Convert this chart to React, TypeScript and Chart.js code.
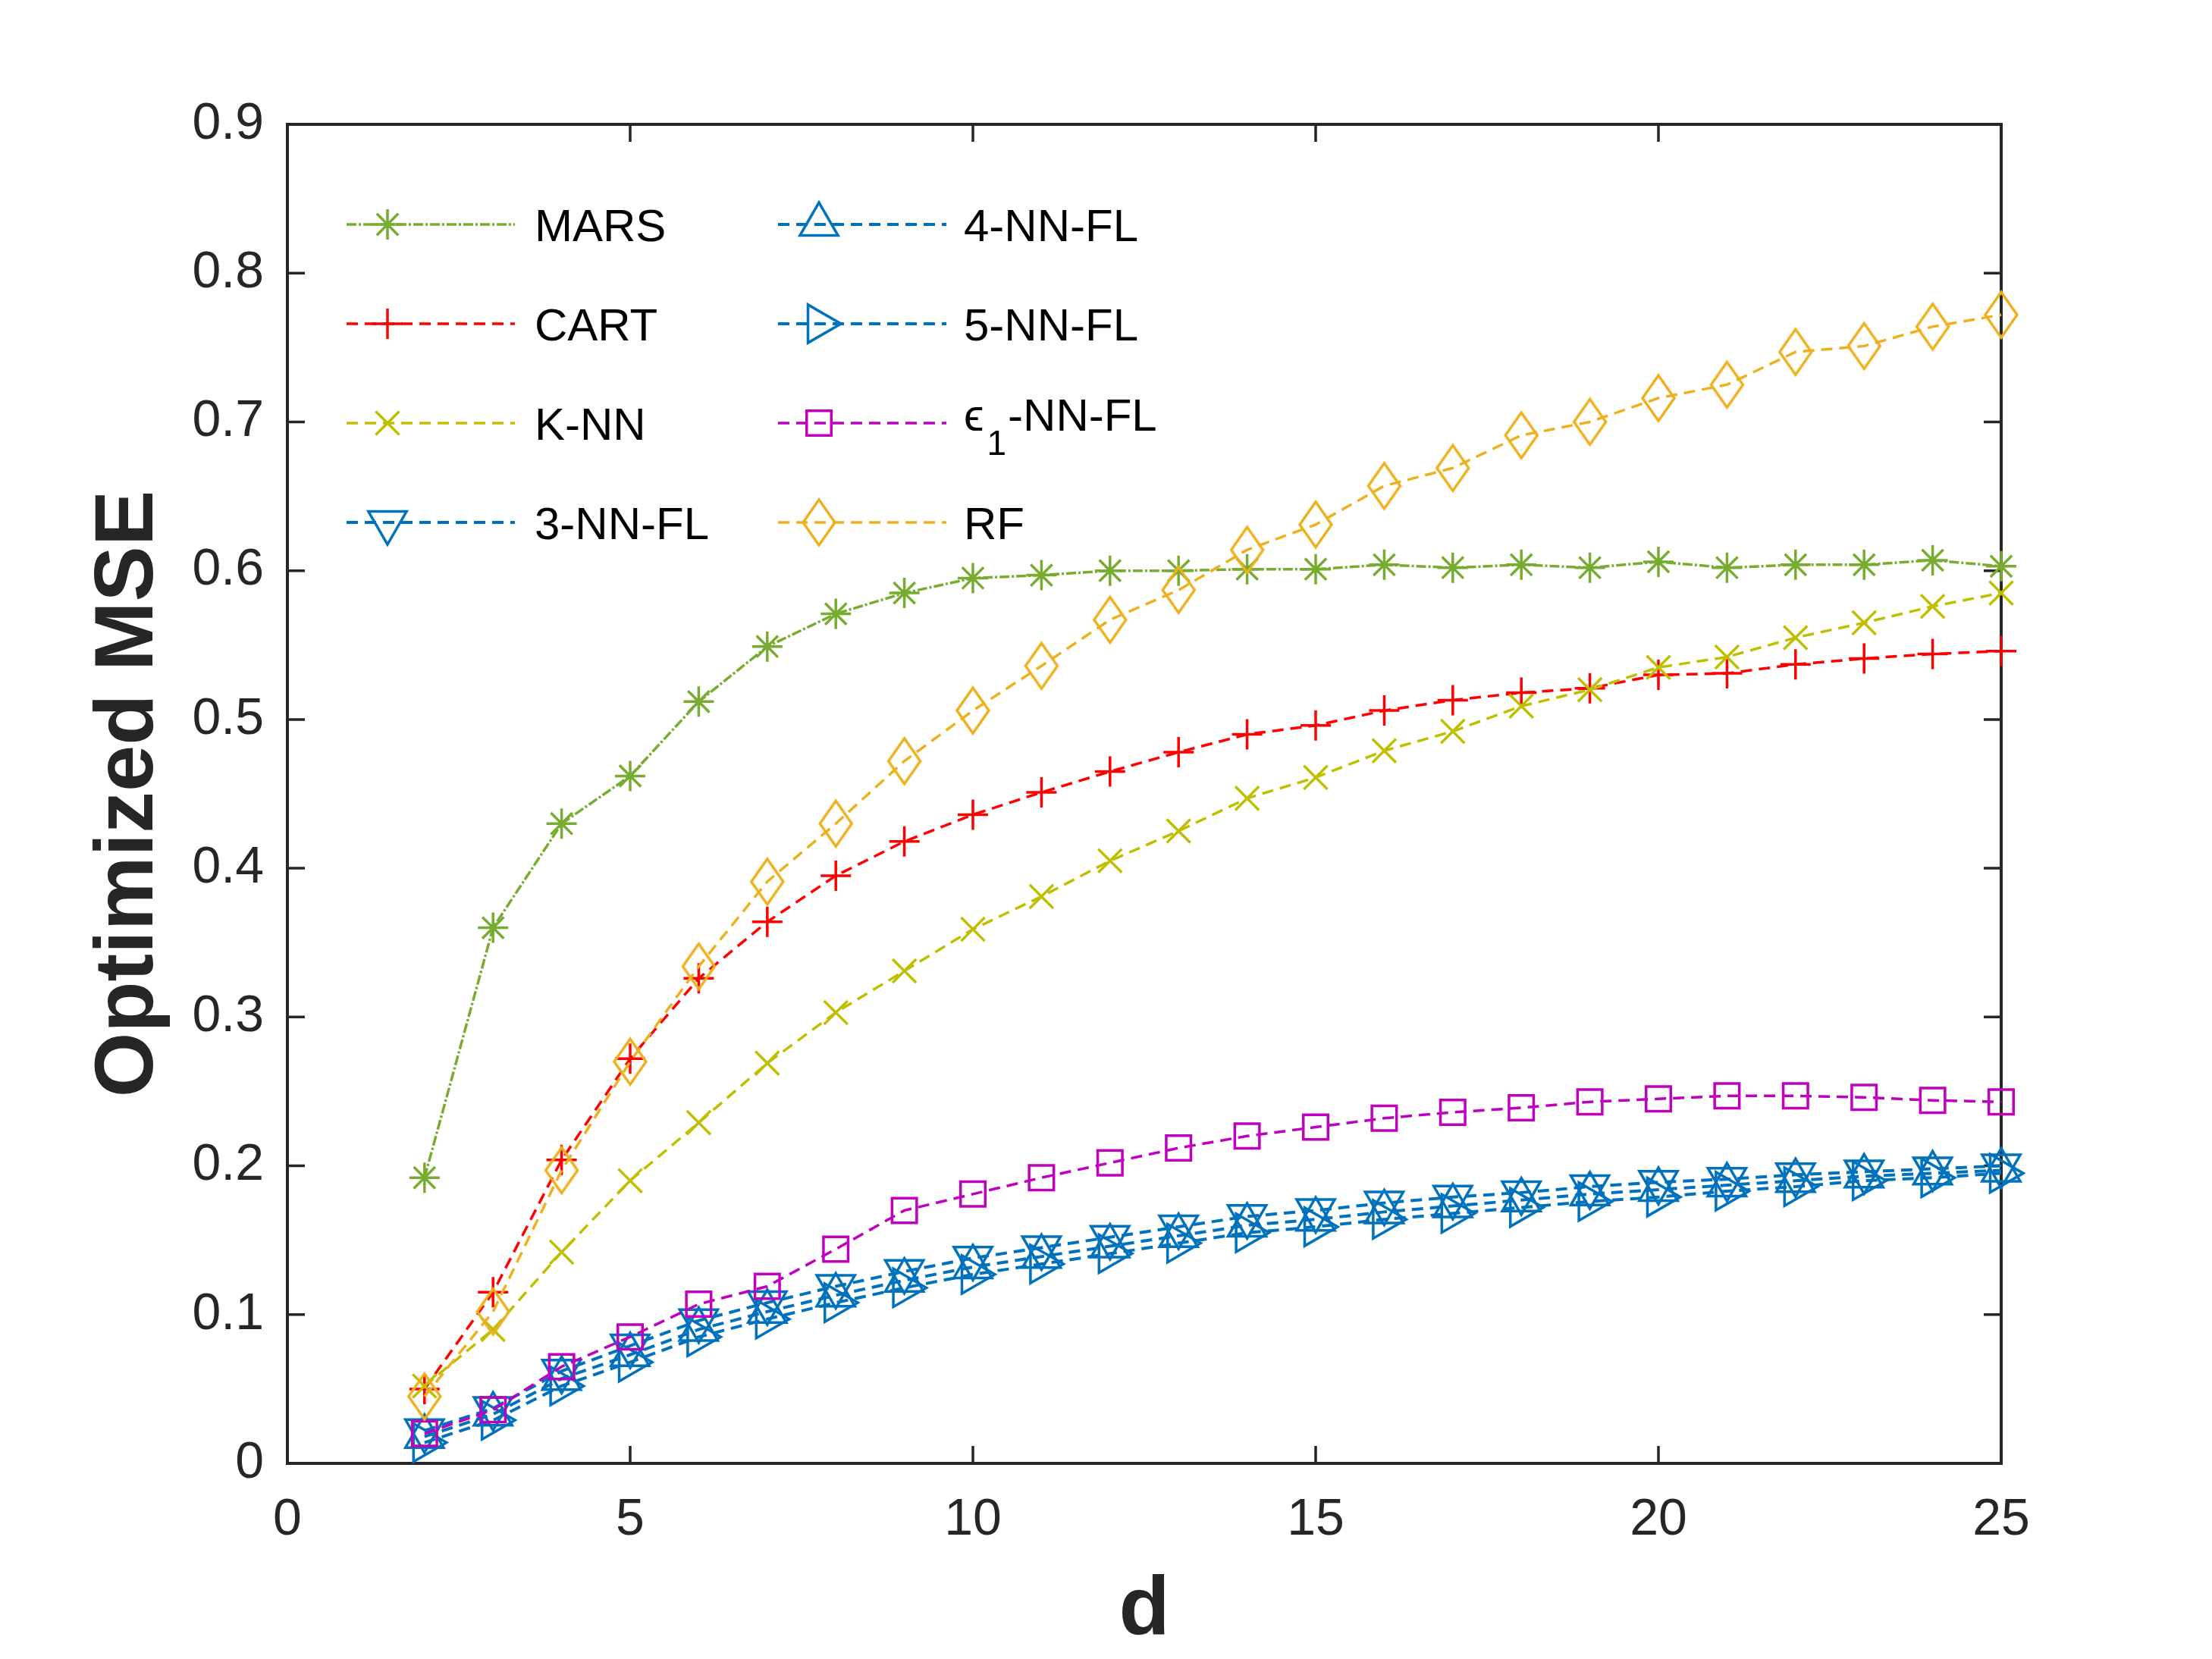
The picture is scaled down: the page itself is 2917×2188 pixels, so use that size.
import React, { useEffect, useRef } from "react";
import { Chart, registerables } from "chart.js";
import { drawPoint } from "chart.js/helpers";

Chart.register(...registerables);

const FONT = "'Liberation Sans', Arial, Helvetica, sans-serif";
const AXIS_COLOR = "#262626";

// problem dimension d
const dValues = [2, 3, 4, 5, 6, 7, 8, 9, 10, 11, 12, 13, 14, 15, 16, 17, 18, 19, 20, 21, 22, 23, 24, 25];

const marsMse = [0.192, 0.36, 0.43, 0.462, 0.512, 0.549, 0.571, 0.585, 0.595, 0.597, 0.6, 0.6, 0.601, 0.601, 0.604, 0.602, 0.604, 0.602, 0.606, 0.602, 0.604, 0.604, 0.607, 0.603];
const cartMse = [0.05, 0.115, 0.204, 0.272, 0.326, 0.364, 0.395, 0.418, 0.436, 0.451, 0.465, 0.478, 0.49, 0.496, 0.506, 0.513, 0.518, 0.521, 0.53, 0.531, 0.537, 0.541, 0.544, 0.546];
const knnMse = [0.052, 0.09, 0.142, 0.19, 0.229, 0.269, 0.303, 0.331, 0.359, 0.381, 0.405, 0.425, 0.447, 0.461, 0.479, 0.492, 0.509, 0.52, 0.535, 0.542, 0.555, 0.565, 0.576, 0.585];
const nn3Mse = [0.022, 0.037, 0.062, 0.079, 0.096, 0.108, 0.119, 0.129, 0.138, 0.145, 0.152, 0.159, 0.166, 0.17, 0.175, 0.179, 0.182, 0.186, 0.189, 0.191, 0.194, 0.196, 0.198, 0.2];
const nn4Mse = [0.018, 0.033, 0.057, 0.073, 0.09, 0.102, 0.113, 0.123, 0.132, 0.139, 0.146, 0.153, 0.16, 0.164, 0.169, 0.173, 0.177, 0.181, 0.184, 0.187, 0.19, 0.193, 0.195, 0.197];
const nn5Mse = [0.014, 0.029, 0.052, 0.068, 0.085, 0.097, 0.108, 0.118, 0.127, 0.134, 0.141, 0.148, 0.155, 0.159, 0.164, 0.168, 0.172, 0.176, 0.179, 0.183, 0.186, 0.19, 0.192, 0.195];
const eps1Mse = [0.02, 0.036, 0.065, 0.085, 0.107, 0.119, 0.144, 0.17, 0.181, 0.192, 0.202, 0.212, 0.22, 0.226, 0.232, 0.236, 0.239, 0.243, 0.245, 0.247, 0.247, 0.246, 0.244, 0.243];
const rfMse = [0.045, 0.102, 0.197, 0.27, 0.334, 0.391, 0.43, 0.472, 0.506, 0.536, 0.567, 0.587, 0.614, 0.631, 0.657, 0.669, 0.691, 0.7, 0.716, 0.725, 0.747, 0.751, 0.764, 0.772];

const xTicks = [0, 5, 10, 15, 20, 25];
const yTicks = [0, 0.1, 0.2, 0.3, 0.4, 0.5, 0.6, 0.7, 0.8, 0.9];

type Series = {
  label: string;
  data: number[];
  color: string;
  dash: number[];
  width: number;
  point: string;
  radius: number;
  rotation: number;
};

const series: Series[] = [
  { label: "MARS", data: marsMse, color: "#77AC30", dash: [13, 3, 3, 3], width: 3.5, point: "star", radius: 20, rotation: 0 },
  { label: "CART", data: cartMse, color: "#FF0000", dash: [15, 9], width: 3.5, point: "cross", radius: 20, rotation: 0 },
  { label: "K-NN", data: knnMse, color: "#BFBF00", dash: [15, 9], width: 3.5, point: "crossRot", radius: 22, rotation: 0 },
  { label: "3-NN-FL", data: nn3Mse, color: "#0072BD", dash: [15, 9], width: 4, point: "triangle", radius: 29, rotation: 180 },
  { label: "4-NN-FL", data: nn4Mse, color: "#0072BD", dash: [15, 9], width: 4, point: "triangle", radius: 29, rotation: 0 },
  { label: "5-NN-FL", data: nn5Mse, color: "#0072BD", dash: [15, 9], width: 4, point: "triangle", radius: 29, rotation: 90 },
  { label: "\u03f5|1|-NN-FL", data: eps1Mse, color: "#BF00BF", dash: [15, 9], width: 3.5, point: "rect", radius: 23, rotation: 0 },
  { label: "RF", data: rfMse, color: "#EDB120", dash: [15, 9], width: 3.5, point: "diamond", radius: 30, rotation: 0 },
];

function makeDiamond(color: string) {
  const c = document.createElement("canvas");
  c.width = 48;
  c.height = 66;
  const g = c.getContext("2d")!;
  g.strokeStyle = color;
  g.lineWidth = 3.5;
  g.beginPath();
  g.moveTo(24, 3);
  g.lineTo(45, 33);
  g.lineTo(24, 63);
  g.lineTo(3, 33);
  g.closePath();
  g.stroke();
  return c;
}

function App() {
  const canvasRef = useRef<HTMLCanvasElement>(null);
  const chartRef = useRef<Chart | null>(null);

  useEffect(() => {
    const ctx = canvasRef.current?.getContext("2d");
    if (!ctx) return;

    const styles = series.map((s) =>
      s.point === "diamond" ? makeDiamond(s.color) : s.point
    );

    const frameAndLegend = {
      id: "frameAndLegend",
      beforeDatasetsDraw(chart: any) {
        const { ctx: c, chartArea: a, scales } = chart;
        const tick = 23;
        c.save();
        c.strokeStyle = AXIS_COLOR;
        c.lineWidth = 4;
        c.strokeRect(a.left, a.top, a.right - a.left, a.bottom - a.top);
        c.lineWidth = 3.5;
        c.beginPath();
        scales.x.ticks.forEach((t: any) => {
          const px = scales.x.getPixelForValue(t.value);
          c.moveTo(px, a.bottom);
          c.lineTo(px, a.bottom - tick);
          c.moveTo(px, a.top);
          c.lineTo(px, a.top + tick);
        });
        scales.y.ticks.forEach((t: any) => {
          const py = scales.y.getPixelForValue(t.value);
          c.moveTo(a.left, py);
          c.lineTo(a.left + tick, py);
          c.moveTo(a.right, py);
          c.lineTo(a.right - tick, py);
        });
        c.stroke();
        c.restore();
      },
      afterDatasetsDraw(chart: any) {
        const { ctx: c, chartArea: a } = chart;
        c.save();
        series.forEach((s, i) => {
          const col = Math.floor(i / 4);
          const row = i % 4;
          const x0 = a.left + (col ? 647 : 78);
          const y = a.top + 132 + row * 131;
          c.strokeStyle = s.color;
          c.lineWidth = s.width;
          c.setLineDash(s.dash);
          c.beginPath();
          c.moveTo(x0, y);
          c.lineTo(x0 + 222, y);
          c.stroke();
          c.setLineDash([]);
          c.lineWidth = 3.5;
          c.fillStyle = "rgba(0,0,0,0)";
          drawPoint(
            c,
            { pointStyle: styles[i], radius: s.radius, rotation: s.rotation, borderWidth: 3.5 } as any,
            x0 + 54,
            y
          );
          const tx = a.left + (col ? 892 : 326);
          c.fillStyle = "#000";
          c.textBaseline = "alphabetic";
          c.textAlign = "left";
          const parts = s.label.split("|");
          if (parts.length === 3) {
            c.font = `60px ${FONT}, 'DejaVu Sans'`;
            c.fillText(parts[0], tx, y + 10);
            let x = tx + c.measureText(parts[0]).width + 4;
            c.font = `46px ${FONT}`;
            c.fillText(parts[1], x, y + 42);
            x += c.measureText(parts[1]).width + 2;
            c.font = `60px ${FONT}`;
            c.fillText(parts[2], x, y + 10);
          } else {
            c.font = `60px ${FONT}`;
            c.fillText(s.label, tx, y + 22);
          }
        });
        c.restore();
      },
    };

    chartRef.current = new Chart(ctx, {
      type: "line",
      data: {
        labels: dValues,
        datasets: series.map((s, i) => ({
          label: s.label,
          data: s.data.map((v, j) => ({ x: dValues[j], y: v })),
          borderColor: s.color,
          borderWidth: s.width,
          borderDash: s.dash,
          fill: false,
          tension: 0,
          pointStyle: styles[i] as any,
          pointRadius: s.radius,
          pointHoverRadius: s.radius,
          pointRotation: s.rotation,
          pointBorderColor: s.color,
          pointBackgroundColor: "rgba(0,0,0,0)",
          pointBorderWidth: 3.5,
          clip: false as any,
          order: series.length - i,
        })),
      },
      options: {
        responsive: false,
        animation: false,
        devicePixelRatio: 1,
        events: [],
        layout: { padding: { left: 0, top: 164, right: 278, bottom: 0 } },
        plugins: {
          legend: { display: false },
          tooltip: { enabled: false },
        },
        scales: {
          x: {
            type: "linear",
            min: xTicks[0],
            max: xTicks[xTicks.length - 1],
            afterBuildTicks: (scale: any) => {
              scale.ticks = xTicks.map((v) => ({ value: v }));
            },
            afterFit: (scale: any) => {
              scale.height = 258;
            },
            grid: { display: false, drawTicks: false },
            border: { display: false },
            ticks: {
              color: AXIS_COLOR,
              font: { family: FONT, size: 68 },
              padding: 34,
              maxRotation: 0,
              autoSkip: false,
              callback: (v: any) => String(v),
            },
            title: {
              display: true,
              text: "d",
              color: AXIS_COLOR,
              font: { family: FONT, size: 110, weight: "bold", lineHeight: 1 },
              padding: { top: 0, bottom: 8 },
            },
          },
          y: {
            type: "linear",
            min: yTicks[0],
            max: yTicks[yTicks.length - 1],
            afterBuildTicks: (scale: any) => {
              scale.ticks = yTicks.map((v) => ({ value: v }));
            },
            afterFit: (scale: any) => {
              scale.width = 379;
            },
            grid: { display: false, drawTicks: false },
            border: { display: false },
            ticks: {
              color: AXIS_COLOR,
              font: { family: FONT, size: 68 },
              padding: 31,
              autoSkip: false,
              callback: (v: any) => String(Math.round(Number(v) * 10) / 10),
            },
            title: {
              display: true,
              text: "Optimized MSE",
              color: AXIS_COLOR,
              font: { family: FONT, size: 110, weight: "bold", lineHeight: 1 },
              padding: { top: 116, bottom: 0 },
            },
          },
        },
      },
      plugins: [frameAndLegend],
    } as any);

    return () => {
      if (chartRef.current) {
        chartRef.current.destroy();
        chartRef.current = null;
      }
    };
  }, []);

  return (
    <div style={{ position: "fixed", left: 0, top: 0, width: 2917, height: 2188, background: "#fff" }}>
      <canvas ref={canvasRef} width={2917} height={2188} style={{ width: 2917, height: 2188 }} />
    </div>
  );
}

export default App;
